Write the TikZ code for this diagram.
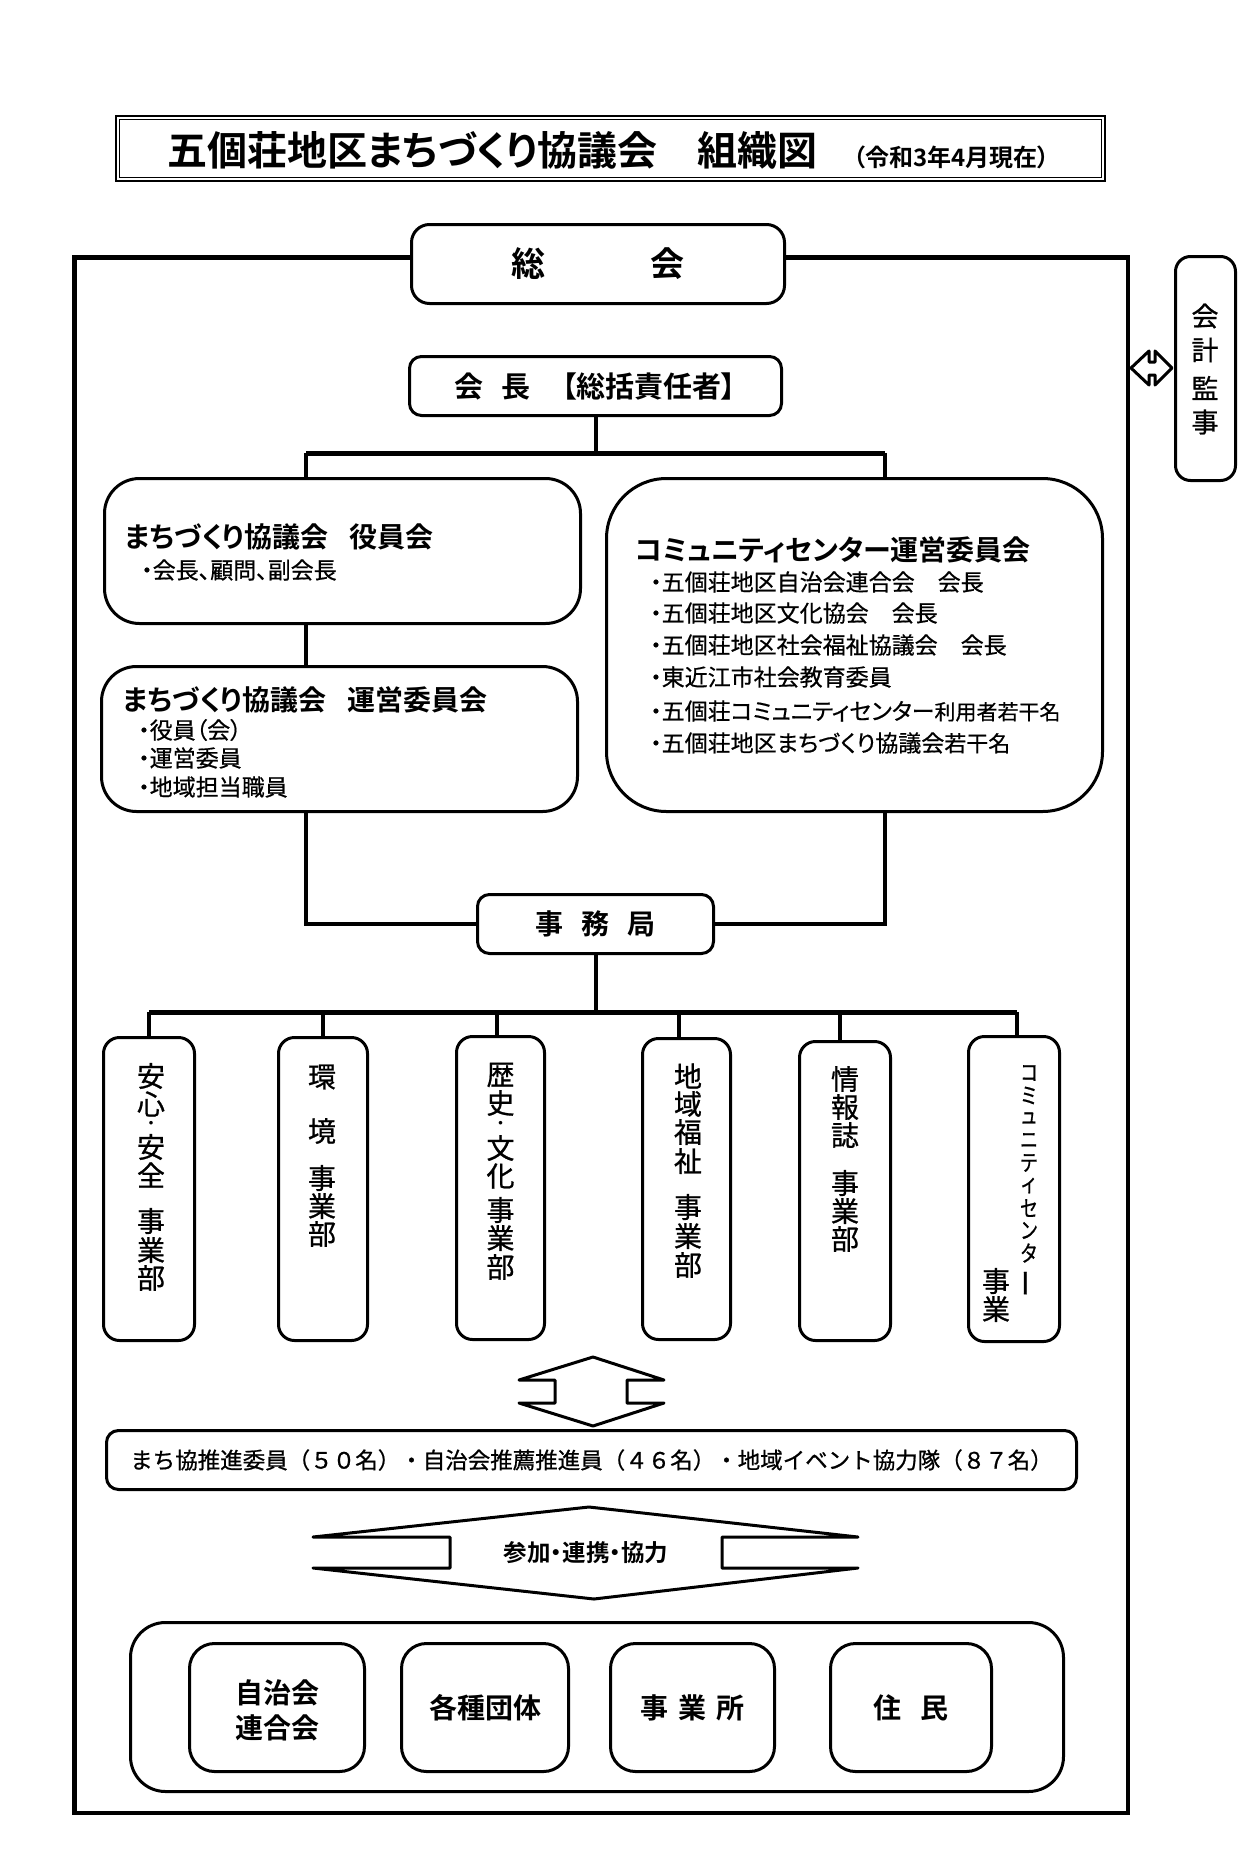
\documentclass[tikz,border=0pt]{standalone}
\usepackage{fontspec}
\usepackage{graphicx}
\setmainfont{Noto Sans CJK JP}[BoldFont={* Bold}]
\newfontfamily\jp{Noto Sans CJK JP}[BoldFont={* Bold}]
\newfontfamily\jpm{Noto Sans CJK JP}[FakeBold=0.8]
\newfontfamily\jpp{Noto Sans CJK JP}[BoldFont={* Bold},RawFeature={+palt}]
\newfontfamily\jppm{Noto Sans CJK JP}[FakeBold=0.6,RawFeature={+palt}]
\newcommand\fsz[1]{\fontsize{#1}{#1}\selectfont}
\begin{document}
\begin{tikzpicture}[x=1pt,y=-1pt,
  bx/.style={draw,line width=3pt,fill=white,rounded corners=#1,inner sep=0pt},
  con/.style={line width=4pt},
  busline/.style={line width=5pt},
  frm/.style={line width=4.5pt},
  shp/.style={line width=3pt,line join=round,fill=white},
  ttl/.style={inner sep=0pt,font=\jpp\bfseries\fsz{28}},
  itm/.style={inner sep=0pt,font=\jppm\fsz{23}},
  vch/.style={inner sep=0pt,font=\jpm\fsz{28}},
  vdot/.style={inner sep=0pt,font=\jp\bfseries\fsz{14}},
  vkch/.style={inner sep=0pt,font=\jpm\fsz{22.5}},
  btxt/.style={inner sep=0pt,font=\jp\bfseries\fsz{28}},
]
\useasboundingbox[fill=white] (0,0) rectangle (1241,1871);

% title
\draw[line width=1.6pt] (115.8,115.8) rectangle (1105.2,181.2);
\draw[line width=1pt] (119.5,119.5) rectangle (1101.5,177.5);
\node[anchor=west,inner sep=0pt,font=\jpp\bfseries\fsz{40}] (title) at (167,150) {五個荘地区まちづくり協議会　組織図};
\node[anchor=west,inner sep=0pt,font=\jpp\bfseries\fsz{24}] (subtitle) at (853,157) {（令和3年4月現在）};

% outer frame
\draw[frm] (74.5,257.5) rectangle (1128,1813);

% top boxes
\node[bx=18pt,minimum width=373pt,minimum height=79pt,font=\jp\bfseries\fsz{34}] (sokai) at (598,264) {総\hspace{3.06em}会};
\node[bx=15pt,minimum width=60pt,minimum height=224pt] (kaikei) at (1205.5,368.5) {};
\foreach \c/\yy [count=\k] in {会/316,計/350,監/388,事/422}
  \node[inner sep=0pt,font=\jpm\fsz{27}] (kk\k) at (1205,\yy) {\c};
\draw[shp] (1131,368) -- (1149,351) -- (1149,362) -- (1155,362) -- (1155,351) -- (1172,368)
  -- (1155,385) -- (1155,375) -- (1149,375) -- (1149,385) -- cycle;

\node[bx=12pt,minimum width=372pt,minimum height=59pt,font=\jpp\bfseries\fsz{29}] (kaicho) at (595.5,386) {会\hspace{0.6em}長\hspace{1.1em}【総括責任者】};

% committee boxes
\node[bx=35pt,minimum width=476pt,minimum height=145pt] (yakuin) at (342.5,551) {};
\node[bx=35pt,minimum width=476pt,minimum height=145pt] (unei) at (339.5,739) {};
\node[bx=60pt,minimum width=496pt,minimum height=333pt] (center) at (854.5,645) {};

\node[ttl,anchor=west] (ya1) at (125,537) {まちづくり協議会\hspace{0.75em}役員会};
\node[itm,anchor=west] (ya2) at (141,570) {・会長、顧問、副会長};

\node[ttl,anchor=west] (un1) at (123,700) {まちづくり協議会\hspace{0.75em}運営委員会};
\node[itm,anchor=west] (un2) at (138,730) {・役員（会）};
\node[itm,anchor=west] (un3) at (138,758) {・運営委員};
\node[itm,anchor=west] (un4) at (138,787) {・地域担当職員};

\node[ttl,anchor=west] (ce1) at (635,550) {コミュニティセンター運営委員会};
\node[itm,anchor=west] (ce2) at (650,582) {・五個荘地区自治会連合会　会長};
\node[itm,anchor=west] (ce3) at (650,613) {・五個荘地区文化協会　会長};
\node[itm,anchor=west] (ce4) at (650,645) {・五個荘地区社会福祉協議会　会長};
\node[itm,anchor=west] (ce5) at (650,677) {・東近江市社会教育委員};
\node[itm,anchor=west] (ce6) at (650,711) {・五個荘コミュニティセンター{\fsz{21}利用者若干名}};
\node[itm,anchor=west] (ce7) at (650,743) {・五個荘地区まちづくり協議会{\fsz{22}若干名}};

% secretariat
\node[bx=12pt,minimum width=236pt,minimum height=59pt,font=\jp\bfseries\fsz{28}] (jimu) at (595.5,924) {事\hspace{0.66em}務\hspace{0.66em}局};

% connectors upper
\coordinate (tee) at (595.5,453);
\coordinate (teel) at (306,453);
\coordinate (teer) at (885,453);
\coordinate (jl) at (306,924);
\coordinate (jr) at (885,924);
\draw[con] (kaicho.south) -- (tee);
\draw[busline] (teel) -- (teer);
\draw[con] (teel) -- (teel |- yakuin.north);
\draw[con] (teer) -- (teer |- center.north);
\draw[con] (yakuin.south -| jl) -- (unei.north -| jl);
\draw[con] (unei.south -| jl) -- (jl) -- (jimu.west);
\draw[con] (center.south -| jr) -- (jr) -- (jimu.east);

% department boxes
\node[bx=16pt,minimum width=91pt,minimum height=303pt] (v1) at (149,1189) {};
\node[bx=16pt,minimum width=89pt,minimum height=303pt] (v2) at (323,1189) {};
\node[bx=16pt,minimum width=88pt,minimum height=303pt] (v3) at (500.5,1188) {};
\node[bx=16pt,minimum width=88pt,minimum height=301pt] (v4) at (686.5,1189) {};
\node[bx=16pt,minimum width=91pt,minimum height=299pt] (v5) at (845,1191) {};
\node[bx=16pt,minimum width=91pt,minimum height=305pt] (v6) at (1014,1189) {};

\coordinate (bus) at (595.5,1012);
\coordinate (d1) at (149,1012);
\coordinate (d2) at (323,1012);
\coordinate (d3) at (497,1012);
\coordinate (d4) at (679,1012);
\coordinate (d5) at (840,1012);
\coordinate (d6) at (1017,1012);
\draw[con] (jimu.south) -- (bus);
\draw[busline] (d1) -- (d6);
\foreach \i in {1,...,6}
  \draw[con] (d\i) -- (d\i |- v\i.north);

\foreach \c/\yy [count=\k] in {安/1076,心/1104,安/1147,全/1175,事/1221,業/1250,部/1278}
  \node[vch] (va\k) at (151,\yy) {\c};
\node[vdot] (vadot) at (151,1125) {・};
\foreach \c/\yy [count=\k] in {環/1077,境/1131,事/1178,業/1206,部/1234}
  \node[vch] (vb\k) at (322,\yy) {\c};
\foreach \c/\yy [count=\k] in {歴/1075,史/1103,文/1148,化/1176,事/1210,業/1238,部/1267}
  \node[vch] (vc\k) at (500.5,\yy) {\c};
\node[vdot] (vcdot) at (500.5,1125) {・};
\foreach \c/\yy [count=\k] in {地/1076,域/1104,福/1132,祉/1161,事/1207,業/1236,部/1265}
  \node[vch] (vd\k) at (688,\yy) {\c};
\foreach \c/\yy [count=\k] in {情/1079,報/1107,誌/1135,事/1183,業/1211,部/1239}
  \node[vch] (ve\k) at (845,\yy) {\c};
\foreach \c/\yy [count=\k] in {コ/1073,ミ/1095.5,ュ/1118,ニ/1140.5,テ/1163,ィ/1185.5,セ/1208,ン/1230.5,タ/1253}
  \node[vkch] (vf\k) at (1029,\yy) {\scalebox{0.8}[1]{\c}};
\node[vch] (vfbar) at (1030,1283) {\rotatebox{90}{ー}};
\foreach \c/\yy [count=\k] in {事/1281,業/1309}
  \node[vch] (vg\k) at (996,\yy) {\c};

% small up-down arrow
\draw[shp] (593,1357) -- (664,1380) -- (627,1380) -- (627,1403) -- (664,1403) -- (593,1426)
  -- (519,1403) -- (555,1403) -- (555,1380) -- (519,1380) -- cycle;

% members
\node[bx=12pt,minimum width=970pt,minimum height=59pt,font=\jpm\fsz{22.5}] (members) at (591.5,1460)
  {まち協推進委員（５０名）・自治会推薦推進員（４６名）・地域イベント協力隊（８７名）};

% big arrow
\draw[shp] (589,1507) -- (858,1537) -- (722,1537) -- (722,1568) -- (858,1568) -- (594,1599)
  -- (313,1568) -- (450,1568) -- (450,1537) -- (313,1537) -- cycle;
\node[inner sep=0pt,font=\jpp\bfseries\fsz{23.5}] (arrtxt) at (586,1553) {参加・連携・協力};

% bottom group
\node[bx=35pt,minimum width=933pt,minimum height=169pt] (group) at (597,1707) {};
\node[bx=25pt,minimum width=175pt,minimum height=128pt] (g1) at (277,1707.5) {};
\node[bx=25pt,minimum width=167pt,minimum height=128pt,font=\jp\bfseries\fsz{28}] (g2) at (485,1707.5) {各種団体};
\node[bx=25pt,minimum width=164pt,minimum height=128pt,font=\jp\bfseries\fsz{28}] (g3) at (692.5,1707.5) {事\hspace{0.35em}業\hspace{0.35em}所};
\node[bx=25pt,minimum width=161pt,minimum height=128pt,font=\jp\bfseries\fsz{28}] (g4) at (911,1707.5) {住\hspace{0.65em}民};
\node[btxt] (g1a) at (277,1693) {自治会};
\node[btxt] (g1b) at (277,1728) {連合会};
\end{tikzpicture}
\end{document}
